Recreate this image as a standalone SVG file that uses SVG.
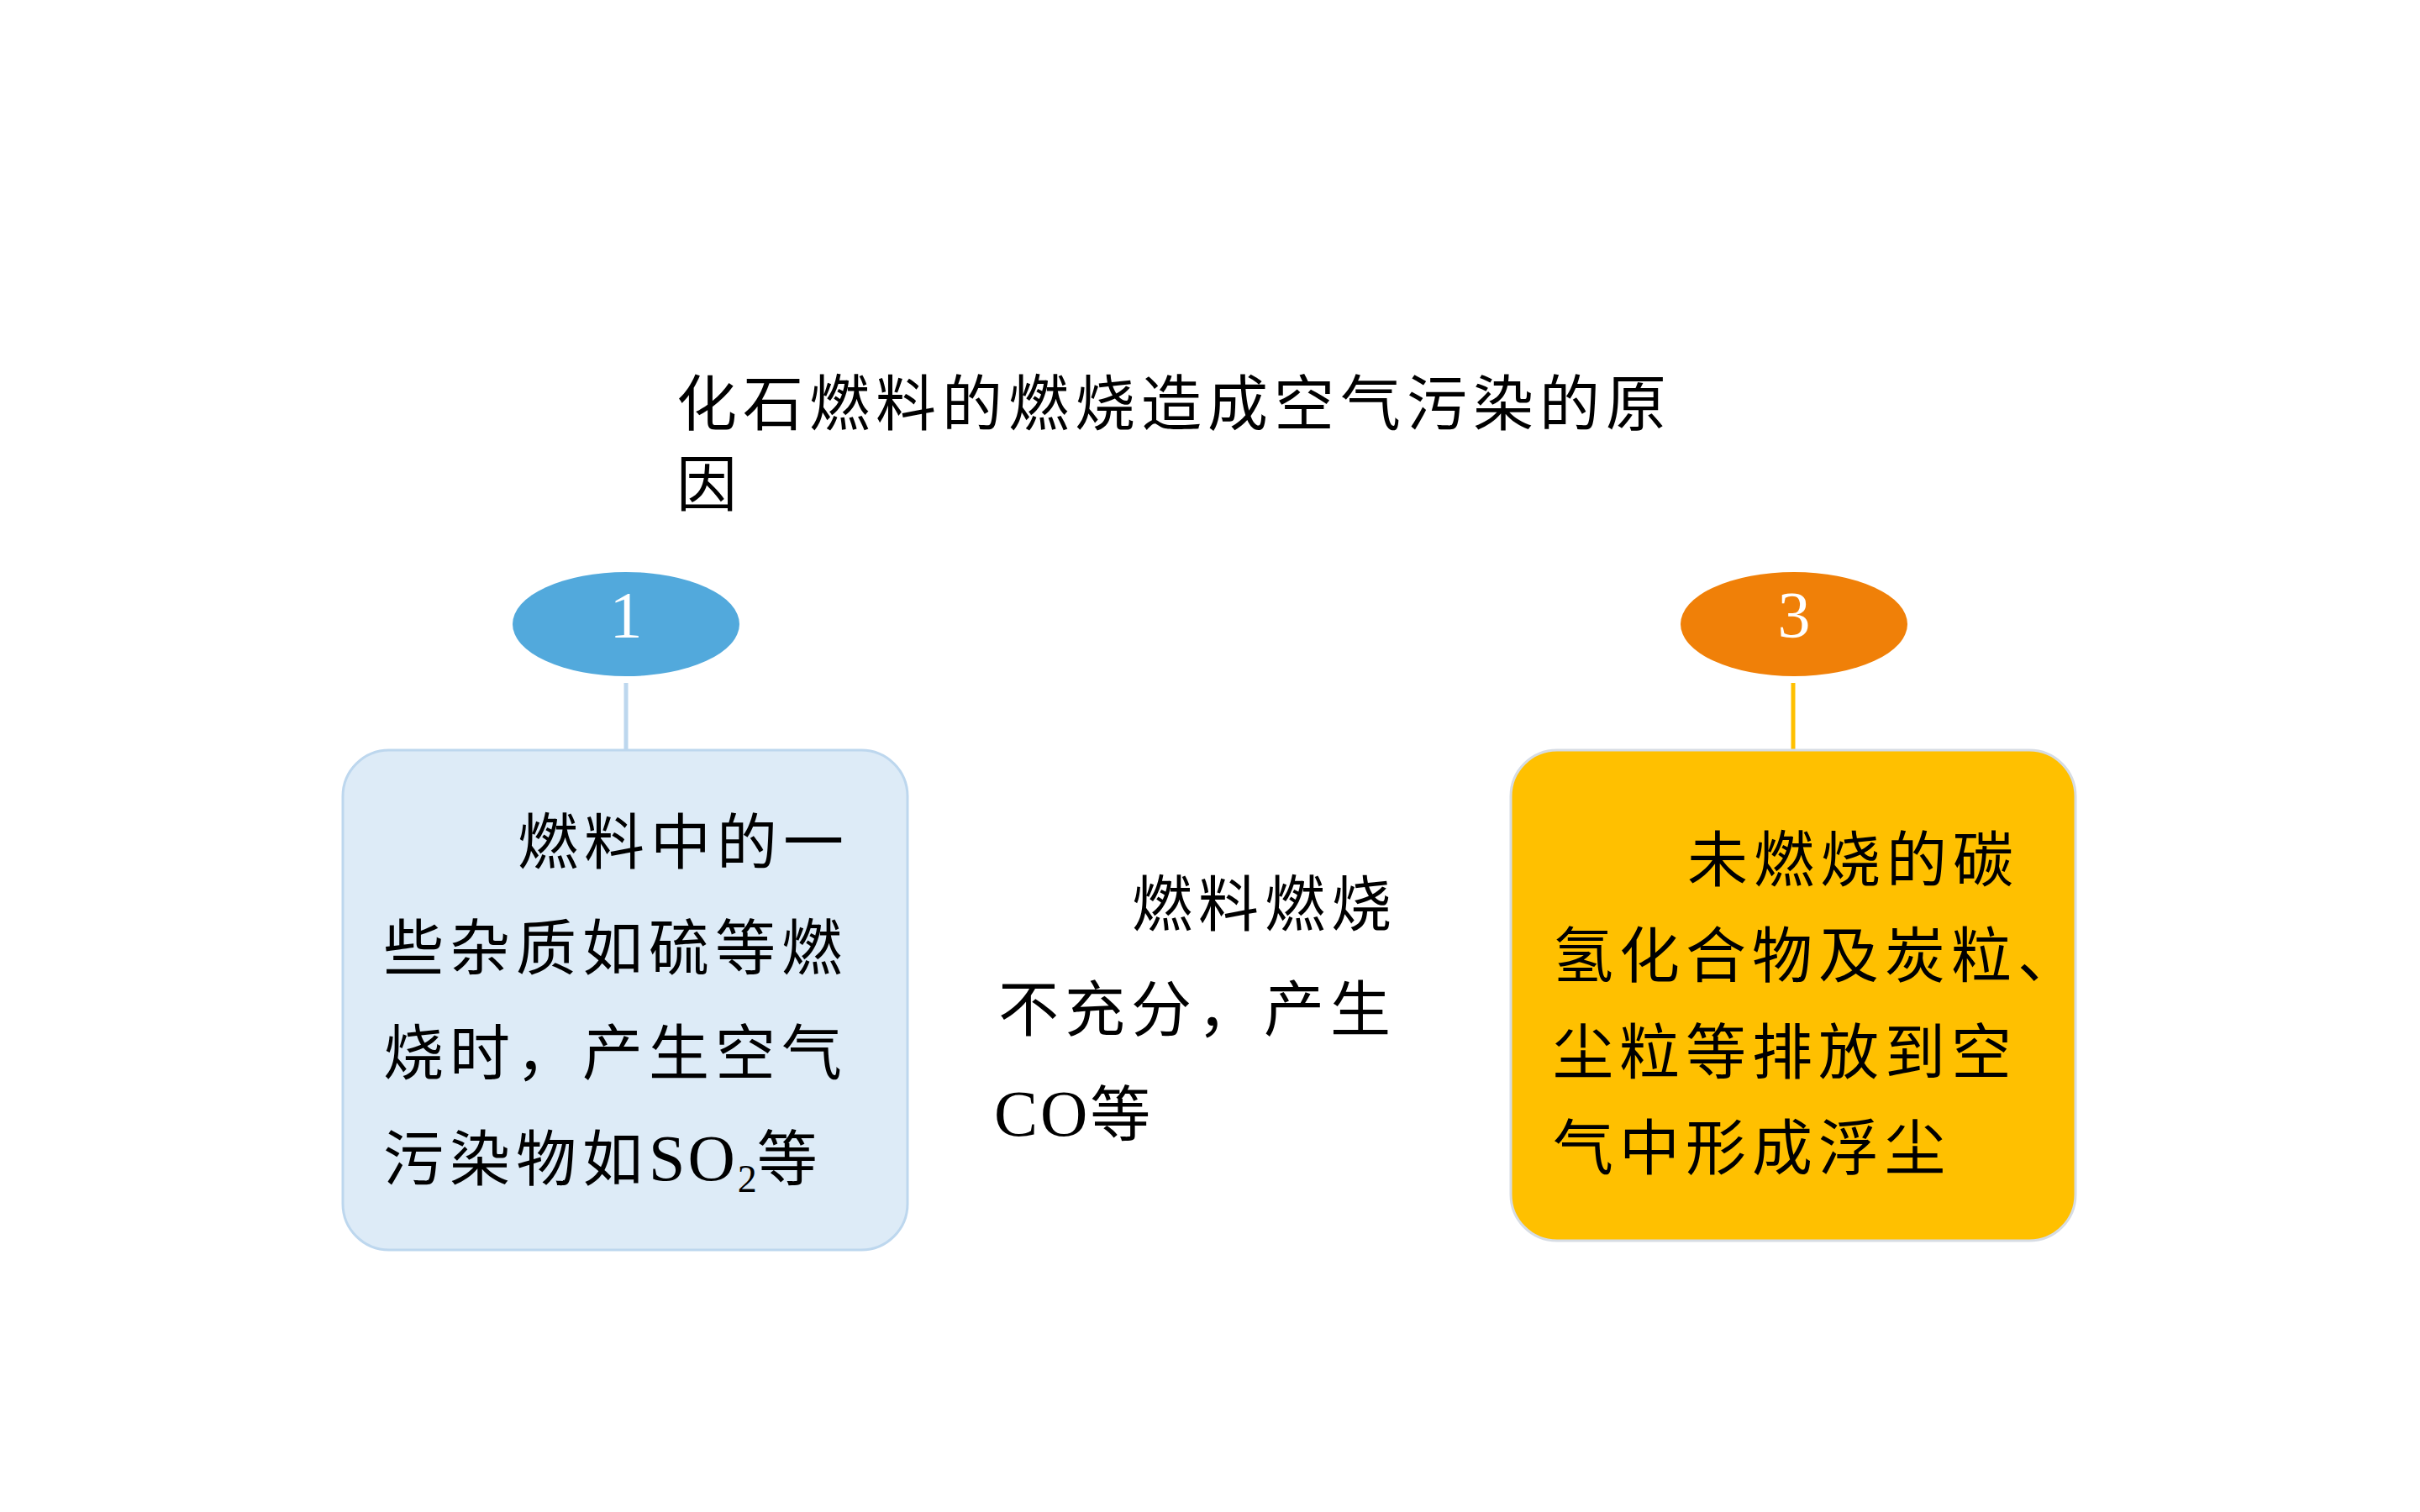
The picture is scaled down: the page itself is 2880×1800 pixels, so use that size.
<svg xmlns="http://www.w3.org/2000/svg" width="2880" height="1800" viewBox="0 0 2880 1800">
<style>
  .t { font-family: "Liberation Serif", "Noto Sans CJK SC", serif; font-size: 72px; letter-spacing: 7px; fill: #000; }
  .lat { font-family: "Liberation Serif", serif; font-size: 78px; letter-spacing: 3px; }
  .sub { font-family: "Liberation Serif", serif; font-size: 46px; letter-spacing: 0; }
  .num { font-family: "Liberation Serif", serif; font-size: 78px; fill: #fff; text-anchor: middle; }
  .conn { stroke-width: 5; fill: none; }
</style>
<rect x="0" y="0" width="2880" height="1800" fill="#fff"/>

<g id="title">
  <text class="t" x="805" y="506">化石燃料的燃烧造成空气污染的原</text>
  <text class="t" x="805" y="602">因</text>
</g>

<g id="connectors">
  <line class="conn" x1="745" y1="813" x2="745" y2="893" stroke="#BDD7EE"/>
  <line class="conn" x1="2134" y1="813" x2="2134" y2="893" stroke="#FFC000"/>
</g>

<g id="badge1">
  <ellipse cx="745" cy="743" rx="135" ry="62" fill="#52A9DC"/>
  <text class="num" x="745" y="758">1</text>
</g>

<g id="box1">
  <rect x="408" y="893" width="672" height="595" rx="55" ry="55" fill="#DDEBF7" stroke="#BDD7EE" stroke-width="3"/>
  <text class="t" x="616" y="1028">燃料中的一</text>
  <text class="t" x="456" y="1154">些杂质如硫等燃</text>
  <text class="t" x="456" y="1279">烧时，产生空气</text>
  <text class="t" x="456" y="1405">污染物如<tspan class="lat">SO</tspan><tspan class="sub" dy="14">2</tspan><tspan dy="-14">等</tspan></text>
</g>

<g id="middle">
  <text class="t" x="1347" y="1102">燃料燃烧</text>
  <text class="t" x="1188" y="1227">不充分，产生</text>
  <text class="t" x="1183" y="1352"><tspan class="lat">CO</tspan>等</text>
</g>

<g id="badge3">
  <ellipse cx="2135" cy="743" rx="135" ry="62" fill="#F08008"/>
  <text class="num" x="2135" y="758">3</text>
</g>

<g id="box3">
  <rect x="1798" y="893" width="672" height="584" rx="55" ry="55" fill="#FFC000" stroke="#D6DCE4" stroke-width="3"/>
  <text class="t" x="2008" y="1049">未燃烧的碳</text>
  <text class="t" x="1848" y="1163">氢化合物及炭粒、</text>
  <text class="t" x="1848" y="1278">尘粒等排放到空</text>
  <text class="t" x="1848" y="1392">气中形成浮尘</text>
</g>
</svg>
